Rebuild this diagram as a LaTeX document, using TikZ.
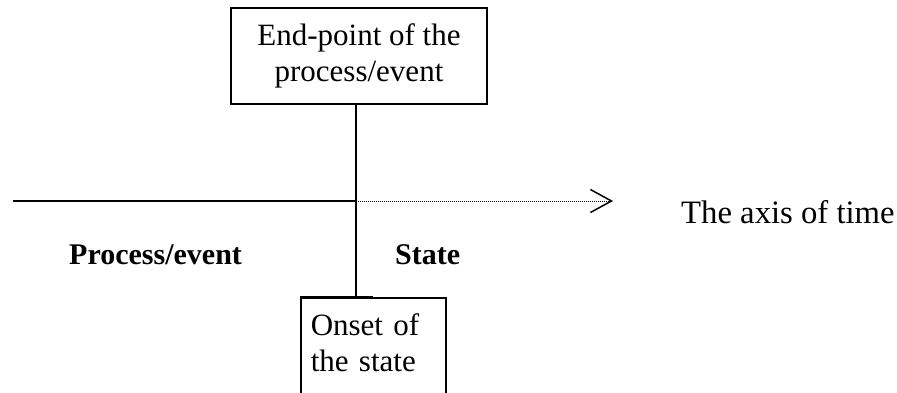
\documentclass[tikz,border=0pt]{standalone}
\usepackage{fontspec}
\setmainfont{Liberation Serif}
\usetikzlibrary{arrows.meta}
\begin{document}
\begin{tikzpicture}[x=1pt,y=-1pt,
  every node/.style={font=\fontsize{31}{35.6}\selectfont},
  box/.style={draw, line width=1.5pt, inner sep=0pt},
  label/.style={inner sep=0pt, anchor=base west},
  boldlabel/.style={label, font=\fontsize{30}{34}\selectfont\bfseries},
  axis/.style={line width=1.6pt},
  dotaxis/.style={line width=1pt, dash pattern=on 1pt off 1pt,
    -{Straight Barb[length=21pt,width=23pt,line width=1.5pt]}}]
\useasboundingbox (0,0) rectangle (897,392);

% boxes
\node[box, minimum width=256pt, minimum height=96pt, align=center]
  (endpt) at (359,56) {End-point of the\\process/event};
\node[box, anchor=north west, minimum width=145pt, align=left,
  inner xsep=10pt, inner ysep=16pt, text depth=70pt, text width=125pt]
  (onset) at (300,297) {Onset of\\the state};
\draw[line width=1pt] ([yshift=0.8pt]onset.north west) -- ++(73,0);

% time axis
\coordinate (vx) at (356,0);
\coordinate (axisL) at (13,201);
\coordinate (cross) at (356,201);
\coordinate (axisR) at (613,201);

\draw[axis] (endpt.south -| vx) -- (onset.north -| vx);
\draw[axis] (axisL) -- (cross);
\draw[dotaxis] (cross) -- (axisR);

% labels
\node[boldlabel] (proc) at (69,264) {Process/event};
\node[boldlabel] (state) at (395,264) {State};
\node[label, font=\fontsize{32.7}{37}\selectfont] (time) at (681,223) {The axis of time};
\end{tikzpicture}
\end{document}
